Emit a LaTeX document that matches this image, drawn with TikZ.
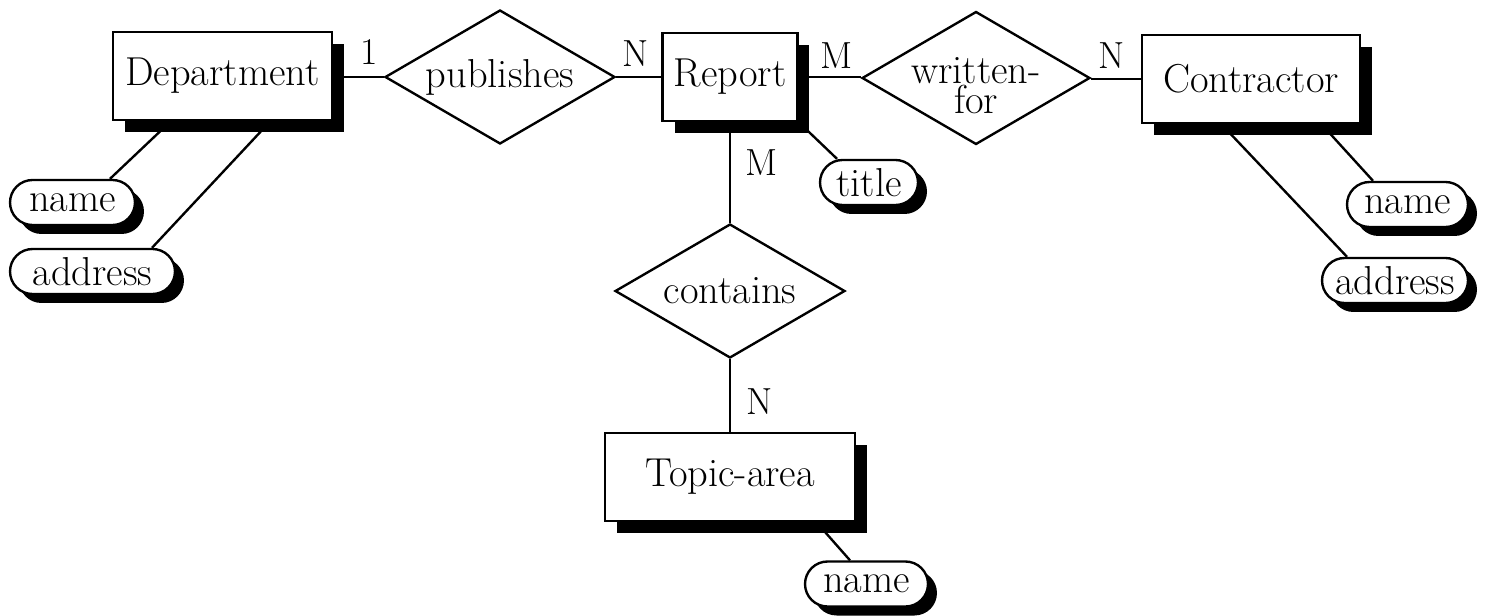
\documentclass[tikz,border=0pt]{standalone}
\usepackage{tikz}
\usetikzlibrary{shapes.geometric,shadows,calc,backgrounds}
\newcommand{\erfont}{\fontsize{23}{25}\selectfont}
\newcommand{\cardfont}{\fontsize{21.5}{23}\selectfont}
% lines of a two-line diamond label: no height, set a bit low
\newcommand{\tightfont}{\fontsize{23}{17}\selectfont}
\newcommand{\lowline}[1]{\raisebox{-11.5pt}[0pt][0pt]{#1}}

\begin{document}
\begin{tikzpicture}[
  x=0.02cm, y=-0.02cm,
  font=\erfont,
  entity/.style={draw, line width=1.35pt, fill=white, inner sep=0pt,
                 minimum width=#1, minimum height=1.76cm,
                 drop shadow={shadow xshift=0.24cm, shadow yshift=-0.24cm,
                              fill=black, opacity=1}},
  relation/.style={draw, diamond, aspect=1.72, line width=1.35pt, fill=white,
                   inner sep=0pt, align=center,
                   minimum width=4.6cm, minimum height=2.68cm},
  attrib/.style={draw, line width=1.35pt, fill=white, rounded corners=0.45cm,
                 inner sep=0pt, minimum width=#1, minimum height=0.9cm,
                 drop shadow={shadow xshift=0.18cm, shadow yshift=-0.18cm,
                              fill=black, opacity=1}},
  card/.style={font=\cardfont, inner sep=0pt},
  link/.style={line width=1.35pt}
]
  \useasboundingbox (0,0) rectangle (1490,615);

  % entities and relationships
  \node[entity=4.38cm] (dept) at (222.5,76) {Department};
  \node[relation] (pub) at (500,77) {publishes};
  \node[entity=2.7cm] (report) at (730,77) {Report};
  \node[relation, font=\tightfont, minimum width=4.56cm, minimum height=2.66cm]
    (wfor) at (976,78) {\lowline{written-}\\\lowline{for}};
  \node[entity=4.36cm] (contr) at (1251,79) {Contractor};
  \node[relation] (cont) at (730,291) {contains};
  \node[entity=5cm] (topic) at (730,477) {Topic-area};

  % attributes
  \node[attrib=2.5cm] (dname) at (72.5,202.5) {name};
  \node[attrib=3.3cm] (daddr) at (92.5,271.5) {address};
  \node[attrib=1.96cm] (title) at (869,182.5) {title};
  \node[attrib=2.42cm] (cname) at (1407.5,204.5) {name};
  \node[attrib=2.92cm] (caddr) at (1395,280.5) {address};
  \node[attrib=2.46cm] (tname) at (866.5,584) {name};

  % cardinalities
  \node[card] (c1) at (369,52) {1};
  \node[card] (c2) at (636,54) {N};
  \node[card] (c3) at (837,56) {M};
  \node[card] (c4) at (1112,56) {N};
  \node[card] (c5) at (762,163) {M};
  \node[card] (c6) at (760,402) {N};

  \begin{scope}[on background layer]
    \draw[link] (dept.east |- pub) -- (pub);
    \draw[link] (pub) -- (report);
    \draw[link] (report) -- (report -| wfor.west);
    \draw[link] (wfor.east |- contr) -- (contr);
    \draw[link] (report) -- (cont);
    \draw[link] (cont) -- (topic);
    \draw[link] ($(dept.south west)+(59,0)$) -- ($(dname.north)+(37.5,0)$);
    \draw[link] ($(dept.south west)+(158.6,0)$) -- ($(daddr.north)+(59.5,0)$);
    \draw[link] (report.south east) -- ($(title.north)+(-32,0)$);
    \draw[link] ($(contr.south west)+(180.6,0)$) -- ($(cname.north)+(-34.5,0)$);
    \draw[link] ($(contr.south west)+(80.5,0)$) -- ($(caddr.north)+(-48,0)$);
    \draw[link] ($(topic.south west)+(212.5,0)$) -- ($(tname.north)+(-16.5,0)$);
  \end{scope}
\end{tikzpicture}
\end{document}
